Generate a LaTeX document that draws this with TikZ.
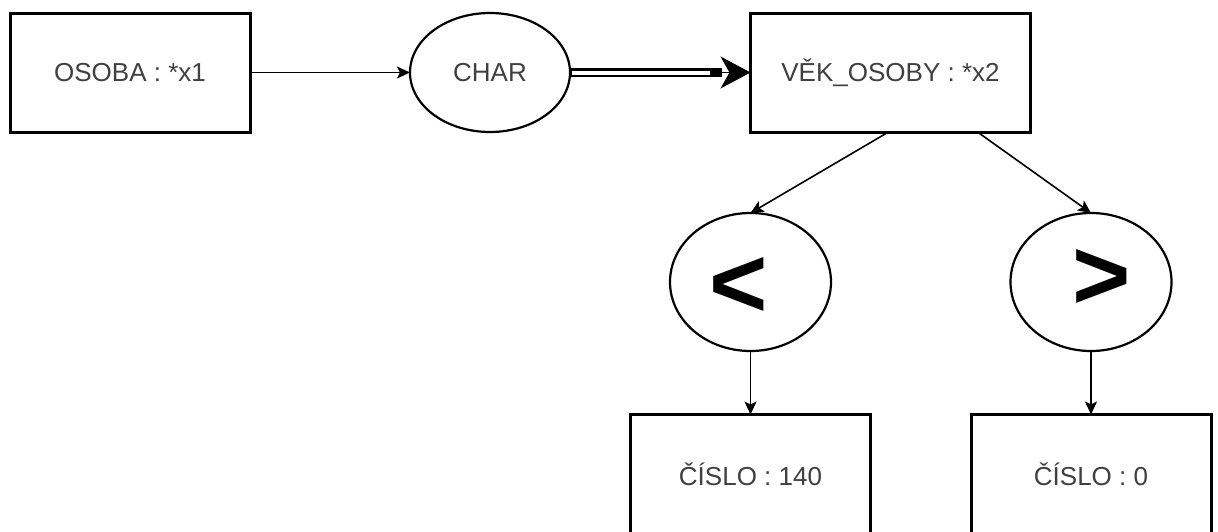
\documentclass[tikz,border=0pt]{standalone}
\usepackage{fontspec}
\setmainfont{Liberation Sans}
\usetikzlibrary{shapes.geometric,arrows.meta}
\definecolor{txt}{HTML}{404040}
\tikzset{
  entity/.style={draw=black, line width=3pt, fill=white, rectangle,
    minimum width=240pt, minimum height=119pt, inner sep=0pt, outer sep=0pt,
    text=txt, font=\fontsize{26}{30}\selectfont},
  relation/.style={draw=black, line width=2.2pt, fill=white, ellipse,
    inner sep=0pt, outer sep=0pt, text=txt, font=\fontsize{26}{30}\selectfont},
  cmp/.style={relation, minimum width=161pt, minimum height=138pt},
  sign/.style={font=\fontsize{100}{100}\bfseries\selectfont, text=black, inner sep=0pt},
  link/.style={line width=1.6pt, -{Stealth[length=13pt,width=12pt,inset=3pt]}}
}
\begin{document}
\begin{tikzpicture}[x=1pt,y=-1pt]
\useasboundingbox (0,0) rectangle (1218,531);
\clip (0,0) rectangle (1218,531);
\fill[white] (0,0) rectangle (1218,531);

% concepts and relations
\node[entity] (osoba) at (130,72.5) {OSOBA : *x1};
\node[relation, minimum width=160pt, minimum height=119pt] (char) at (490,72.5) {CHAR};
\node[entity, minimum width=280pt] (vek) at (890.5,72.5) {VĚK\_OSOBY : *x2};
\node[cmp] (lt) at (750.5,282) {};
\node[cmp] (gt) at (1091,282) {};
\node[sign] (ltsign) at (739,287) {<};
\node[sign] (gtsign) at (1102,279) {>};
\node[entity] (c140) at (750.5,474) {ČÍSLO : 140};
\node[entity] (c0) at (1091,474) {ČÍSLO : 0};

% plain links
\draw[link] (osoba.east) -- (char.west);
\draw[link] ([xshift=-2pt]vek.south) -- (lt.north);
\draw[link] ([xshift=87pt]vek.south) -- (gt.north);
\draw[link] (lt.south) -- (c140.north);
\draw[link] (gt.south) -- (c0.north);

% double link with heavy head
\coordinate (dbl) at (722,72.5);
\coordinate (dblin) at (710,72.5);
\draw[line width=9pt] (char.east) -- (dbl);
\draw[white, line width=4pt, shorten <=1.5pt] (char.east) -- (dblin);
\draw[line width=1pt, -{Stealth[length=30pt,width=32pt,inset=9pt]}] (dbl) -- (vek.west);
\end{tikzpicture}
\end{document}
